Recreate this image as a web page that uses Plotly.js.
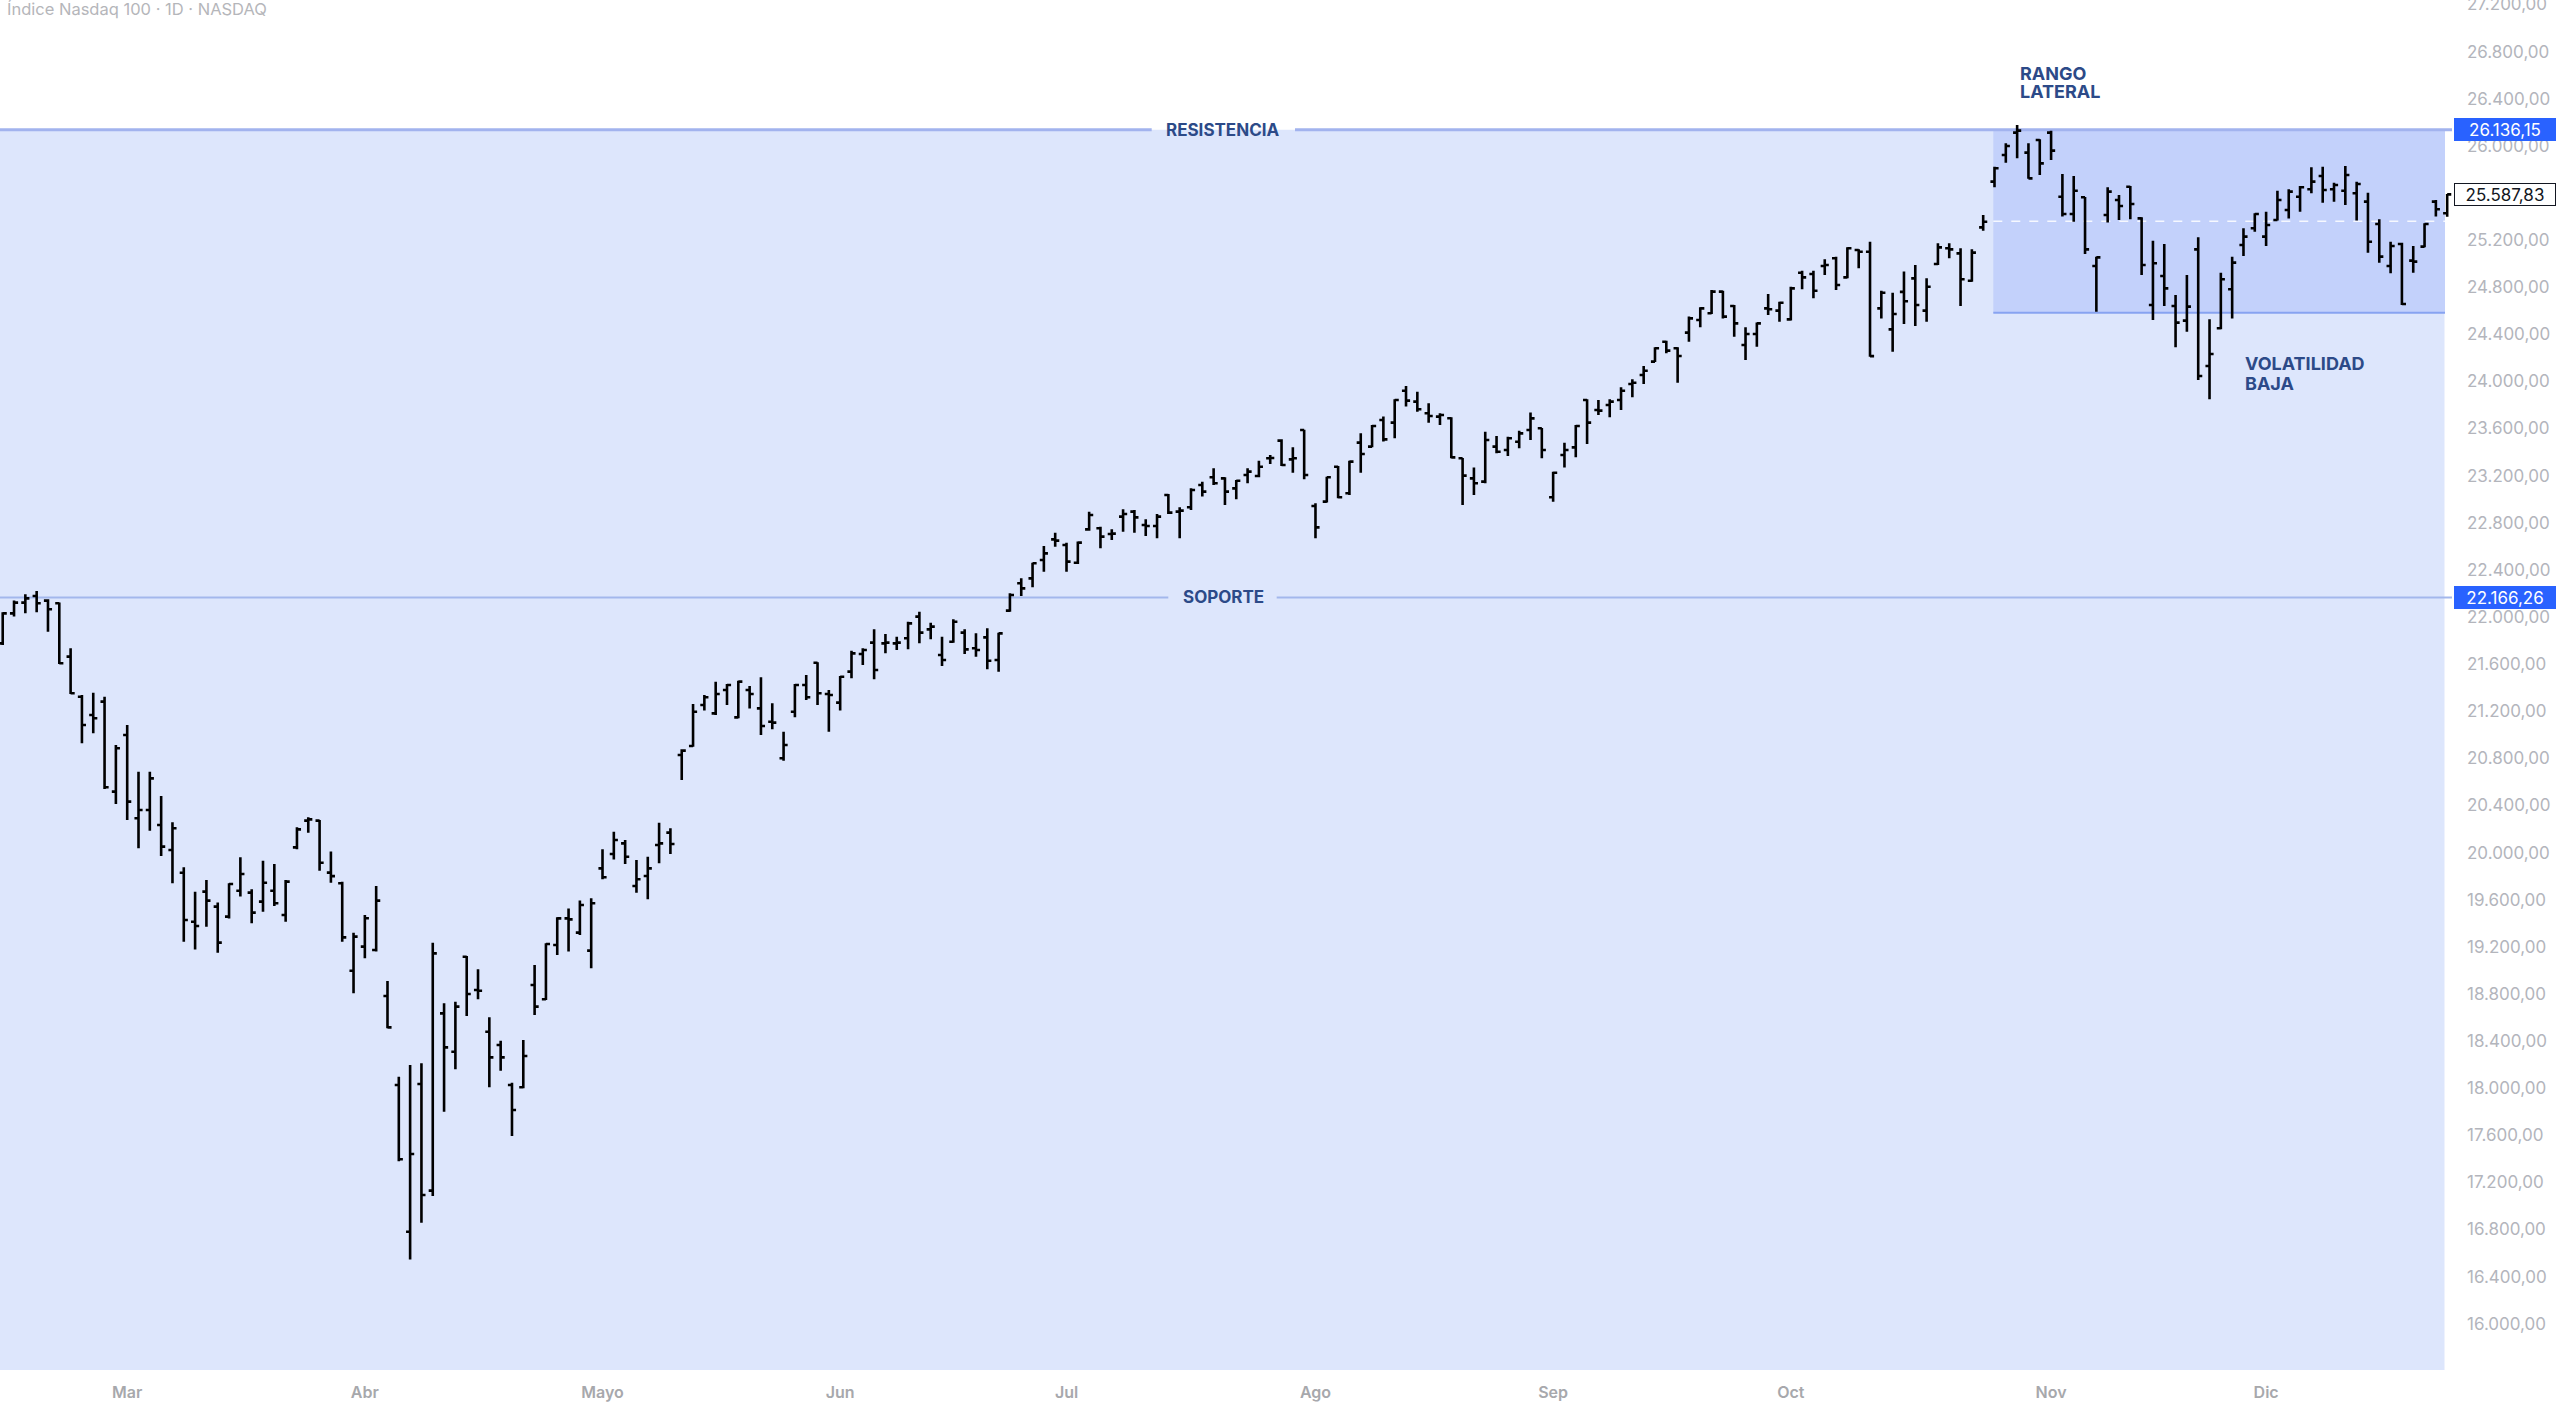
<!DOCTYPE html>
<html><head><meta charset="utf-8">
<script src="https://cdn.plot.ly/plotly-3.0.1.min.js"></script>
<style>html,body{margin:0;padding:0;background:#fff;overflow:hidden}#chart{width:2560px;height:1407px}</style>
</head><body><div id="chart"></div>
<script>
const dates = [
"2025-02-13","2025-02-14","2025-02-18","2025-02-19","2025-02-20","2025-02-21","2025-02-24","2025-02-25","2025-02-26","2025-02-27","2025-02-28",
"2025-03-03","2025-03-04","2025-03-05","2025-03-06","2025-03-07","2025-03-10","2025-03-11","2025-03-12","2025-03-13","2025-03-14","2025-03-17","2025-03-18","2025-03-19","2025-03-20","2025-03-21","2025-03-24","2025-03-25","2025-03-26","2025-03-27","2025-03-28","2025-03-31",
"2025-04-01","2025-04-02","2025-04-03","2025-04-04","2025-04-07","2025-04-08","2025-04-09","2025-04-10","2025-04-11","2025-04-14","2025-04-15","2025-04-16","2025-04-17","2025-04-21","2025-04-22","2025-04-23","2025-04-24","2025-04-25","2025-04-28","2025-04-29","2025-04-30",
"2025-05-01","2025-05-02","2025-05-05","2025-05-06","2025-05-07","2025-05-08","2025-05-09","2025-05-12","2025-05-13","2025-05-14","2025-05-15","2025-05-16","2025-05-19","2025-05-20","2025-05-21","2025-05-22","2025-05-23","2025-05-27","2025-05-28","2025-05-29","2025-05-30",
"2025-06-02","2025-06-03","2025-06-04","2025-06-05","2025-06-06","2025-06-09","2025-06-10","2025-06-11","2025-06-12","2025-06-13","2025-06-16","2025-06-17","2025-06-18","2025-06-20","2025-06-23","2025-06-24","2025-06-25","2025-06-26","2025-06-27","2025-06-30",
"2025-07-01","2025-07-02","2025-07-03","2025-07-07","2025-07-08","2025-07-09","2025-07-10","2025-07-11","2025-07-14","2025-07-15","2025-07-16","2025-07-17","2025-07-18","2025-07-21","2025-07-22","2025-07-23","2025-07-24","2025-07-25","2025-07-28","2025-07-29","2025-07-30","2025-07-31",
"2025-08-01","2025-08-04","2025-08-05","2025-08-06","2025-08-07","2025-08-08","2025-08-11","2025-08-12","2025-08-13","2025-08-14","2025-08-15","2025-08-18","2025-08-19","2025-08-20","2025-08-21","2025-08-22","2025-08-25","2025-08-26","2025-08-27","2025-08-28","2025-08-29",
"2025-09-02","2025-09-03","2025-09-04","2025-09-05","2025-09-08","2025-09-09","2025-09-10","2025-09-11","2025-09-12","2025-09-15","2025-09-16","2025-09-17","2025-09-18","2025-09-19","2025-09-22","2025-09-23","2025-09-24","2025-09-25","2025-09-26","2025-09-29","2025-09-30",
"2025-10-01","2025-10-02","2025-10-03","2025-10-06","2025-10-07","2025-10-08","2025-10-09","2025-10-10","2025-10-13","2025-10-14","2025-10-15","2025-10-16","2025-10-17","2025-10-20","2025-10-21","2025-10-22","2025-10-23","2025-10-24","2025-10-27","2025-10-28","2025-10-29","2025-10-30","2025-10-31",
"2025-11-03","2025-11-04","2025-11-05","2025-11-06","2025-11-07","2025-11-10","2025-11-11","2025-11-12","2025-11-13","2025-11-14","2025-11-17","2025-11-18","2025-11-19","2025-11-20","2025-11-21","2025-11-24","2025-11-25","2025-11-26","2025-11-28",
"2025-12-01","2025-12-02","2025-12-03","2025-12-04","2025-12-05","2025-12-08","2025-12-09","2025-12-10","2025-12-11","2025-12-12","2025-12-15","2025-12-16","2025-12-17","2025-12-18","2025-12-19","2025-12-22","2025-12-23"
];

const openP = [
21776,22031,22122,22178,22139,22116,21663,21323,21168,21281,20517,
20998,20291,20361,20234,20022,19829,19413,19668,19541,19456,19676,19660,19583,19676,19470,20044,20271,20271,19830,19739,18997,
19201,19173,18782,18027,16781,18035,17130,18635,18309,19116,18833,18479,18366,18027,18007,18876,18754,19215,19441,19320,19167,
19866,19988,20078,19716,19801,20064,20169,20828,20905,21253,21182,21380,21148,21380,21224,21111,20800,21196,21423,21612,21346,
21273,21536,21686,21782,21776,21776,21819,22003,21895,21677,21790,21867,21734,21827,21635,22054,22286,22328,22484,22659,
22611,22461,22744,22753,22705,22852,22894,22781,22772,23036,22894,22931,23121,23186,23177,23092,23205,23197,23347,23497,23338,23587,
22942,22979,23276,23050,23480,23446,23672,23650,23921,23828,23729,23701,23687,23347,23177,23149,23446,23418,23488,23587,23602,
23016,23375,23440,23842,23757,23800,23842,23978,24054,24168,24337,24281,24414,24521,24578,24762,24640,24309,24402,24620,24601,
24527,24923,24912,24980,25045,24883,25116,25101,24620,24442,24760,24875,24601,24997,25130,25087,24855,25308,25696,25922,26112,25942,26050,
26112,25568,25421,25563,24980,25413,25540,25653,25384,24649,24895,24640,24516,25121,24131,24451,24782,25158,25300,
25229,25370,25455,25568,25631,25744,25631,25619,25597,25526,25336,24980,25167,25025,25144,25526,25427
];

const highP = [
22040,22139,22192,22221,22150,22122,21734,21338,21357,21323,20913,
21083,20687,20687,20480,20257,19875,19668,19767,19575,19739,19960,19688,19931,19903,19767,20214,20299,20277,20008,19753,19320,
19470,19716,18910,18097,18196,18211,19235,18720,18734,19122,19009,18601,18403,18046,18409,19045,19230,19450,19526,19592,19611,
20027,20177,20106,19937,19965,20254,20206,20876,21261,21338,21451,21431,21459,21414,21488,21267,21026,21431,21507,21615,21380,
21499,21714,21734,21895,21856,21833,21960,22045,21952,21833,21980,21895,21861,21904,21866,22201,22328,22461,22603,22716,
22631,22640,22894,22767,22744,22914,22908,22829,22874,23044,22931,23092,23149,23262,23186,23163,23262,23327,23375,23508,23440,23590,
22965,23190,23282,23327,23559,23630,23701,23848,23961,23913,23814,23729,23695,23350,23270,23573,23536,23531,23582,23735,23605,
23234,23480,23630,23848,23842,23848,23950,24018,24131,24289,24346,24290,24550,24629,24776,24770,24649,24459,24499,24742,24677,
24804,24940,24940,25036,25059,25138,25122,25186,24770,24753,24932,24988,24875,25172,25172,25130,25121,25413,25823,26021,26177,26021,26055,
26129,25761,25744,25566,25059,25648,25583,25659,25393,25195,25167,24733,24903,25223,24527,24923,25059,25300,25427,
25441,25619,25631,25659,25818,25823,25687,25829,25696,25602,25376,25186,25178,25150,25342,25540,25591
];

const lowP = [
21762,22003,22031,22040,21875,21601,21346,20927,21012,20540,20412,
20276,20036,20186,19971,19739,19243,19178,19371,19150,19441,19626,19399,19498,19546,19413,20027,20169,19846,19744,19243,18805,
19102,19159,18508,17380,16546,16858,17084,17800,18160,18612,18754,18007,18148,17594,17998,18621,18748,19130,19159,19300,19017,
19773,19942,19903,19659,19603,19909,19988,20616,20899,21205,21168,21253,21140,21224,20998,21046,20780,21148,21295,21253,21026,
21205,21479,21592,21471,21691,21720,21725,21776,21810,21584,21782,21686,21663,21556,21536,22045,22178,22252,22385,22597,
22385,22450,22733,22583,22654,22724,22716,22688,22668,22874,22668,22908,23022,23121,22951,22999,23135,23186,23299,23282,23225,23169,
22668,22971,23007,23036,23225,23440,23489,23517,23786,23743,23650,23630,23347,22951,23036,23135,23389,23367,23432,23502,23347,
22979,23270,23355,23469,23715,23695,23757,23865,23978,24165,24238,23989,24337,24459,24572,24535,24380,24182,24295,24564,24507,
24516,24782,24705,24903,24776,24875,24960,24210,24535,24252,24487,24470,24507,24988,25045,24640,24847,25280,25648,25857,25894,25720,25752,
25880,25399,25356,25082,24592,25348,25370,25376,24903,24521,24640,24289,24422,24012,23848,24442,24535,25065,25271,
25150,25365,25384,25441,25597,25517,25526,25498,25365,25093,25008,24918,24649,24923,25138,25399,25398
];

const closeP = [
22031,22122,22158,22116,22065,21607,21352,21083,21140,20554,20885,
20432,20361,20630,20050,20206,19427,19376,19592,19235,19733,19818,19490,19744,19569,19753,20197,20282,19914,19800,19280,19286,
19442,19592,18516,17396,17441,17093,19144,18346,18692,18799,18827,18261,18261,17814,18273,18692,19224,19441,19433,19555,19569,
19790,20107,19965,19773,19866,20078,20073,20865,21196,21318,21346,21423,21451,21346,21075,21103,20913,21423,21318,21352,21338,
21493,21691,21720,21550,21782,21782,21946,21867,21918,21635,21960,21725,21720,21629,21861,22187,22243,22456,22540,22648,
22470,22631,22866,22682,22708,22874,22846,22772,22852,22886,22903,23078,23064,23135,23064,23157,23234,23276,23350,23290,23347,23205,
22761,23186,23016,23319,23384,23621,23508,23842,23837,23763,23706,23715,23355,23200,23135,23502,23403,23517,23559,23686,23418,
23225,23418,23621,23650,23752,23828,23921,23989,24091,24281,24261,24216,24535,24620,24762,24550,24493,24402,24493,24612,24668,
24790,24883,24770,24988,24818,25130,25101,24215,24753,24572,24680,24649,24804,25138,25121,24867,25093,25356,25809,25999,26129,25724,25851,
25959,25421,25619,25121,25053,25611,25489,25506,24988,25003,24790,24499,24635,24046,24233,24867,25008,25229,25421,
25328,25540,25611,25648,25696,25625,25667,25752,25676,25186,25059,25150,24657,25017,25336,25461,25587.83
];

const monthStarts = ["2025-03-03","2025-04-01","2025-05-01","2025-06-02","2025-07-01","2025-08-01","2025-09-02","2025-10-01","2025-11-03","2025-12-01"];
const monthLabels = ["Mar","Abr","Mayo","Jun","Jul","Ago","Sep","Oct","Nov","Dic"];

const resistance = 26136.15;
const support = 22166.26;
const rangeLow = 24583;
const lastPrice = closeP[closeP.length - 1];

// ---- layout geometry (pixels) ----
const W = 2560, H = 1407, ML = 0, MR = 108, MT = 0, MB = 37;
const PW = W - ML - MR, PH = H - MT - MB;
const BAR0 = 2.71, STEP = 11.317;              // pixel of first bar, spacing
const ix = px => (px - BAR0) / STEP;           // pane pixel -> bar index
const X = px => px / PW;                       // pane pixel -> paper x
const Y = py => 1 - py / PH;                   // pane pixel -> paper y
const idx = dates.map((d, k) => k);
const midRange = (resistance + rangeLow) / 2;
const fmt = v => v.toFixed(2).replace('.', ',').replace(/\B(?=(\d{3})+(?!\d))/g, '.');

const FONT = 'Inter, Roboto, "Noto Sans", sans-serif';
const NAVY = '#2c4a88';

const trace = {
  type: 'ohlc',
  x: idx, open: openP, high: highP, low: lowP, close: closeP,
  text: dates, hoverinfo: 'skip',
  tickwidth: 0.36,
  increasing: {line: {color: '#000000', width: 2.6}},
  decreasing: {line: {color: '#000000', width: 2.6}},
  showlegend: false
};

const xr = [ix(0), ix(PW)];
const shapes = [
  {type:'rect', layer:'below', xref:'x', yref:'y', x0:xr[0], x1:ix(2444.5), y0:15000, y1:resistance, fillcolor:'#dde6fc', line:{width:0}},
  {type:'rect', layer:'below', xref:'x', yref:'y', x0:ix(1993.3), x1:ix(2445), y0:rangeLow, y1:resistance, fillcolor:'#c3d1fb', line:{width:0}},
  {type:'line', layer:'below', xref:'x', yref:'y', x0:ix(1993.3), x1:ix(2445), y0:midRange, y1:midRange, line:{color:'rgba(255,255,255,0.85)', width:1.5, dash:'dash'}},
  {type:'line', layer:'below', xref:'x', yref:'y', x0:ix(1993.3), x1:ix(2445), y0:rangeLow, y1:rangeLow, line:{color:'#87a3f1', width:2}},
  {type:'line', layer:'below', xref:'x', yref:'y', x0:xr[0], x1:ix(1151.7), y0:resistance, y1:resistance, line:{color:'#a2b3ee', width:3}},
  {type:'line', layer:'below', xref:'x', yref:'y', x0:ix(1295), x1:xr[1], y0:resistance, y1:resistance, line:{color:'#a2b3ee', width:3}},
  {type:'line', layer:'below', xref:'x', yref:'y', x0:xr[0], x1:ix(1168.3), y0:support, y1:support, line:{color:'#a3b7ec', width:2}},
  {type:'line', layer:'below', xref:'x', yref:'y', x0:ix(1276.7), x1:xr[1], y0:support, y1:support, line:{color:'#a3b7ec', width:2}}
];

const boldNavy = (size) => ({family: FONT, size: size, color: NAVY, weight: 700});
const priceBox = (v, bg, border, color) => ({
  xref:'paper', yref:'y', x:1, xshift:2, y:v, xanchor:'left', yanchor:'middle', showarrow:false,
  text:fmt(v), width:98, height:19, borderpad:1, bgcolor:bg, bordercolor:border, borderwidth:1,
  font:{family:FONT, size:17, color:color}
});
const annotations = [
  {xref:'paper', yref:'paper', x:X(5), y:Y(9), xanchor:'left', yanchor:'middle', showarrow:false,
   text:'Índice Nasdaq 100 · 1D · NASDAQ', font:{family:FONT, size:16.5, color:'#b5b6ba'}},
  {xref:'x', yref:'y', x:ix(1222.5), y:resistance, xanchor:'center', yanchor:'middle', showarrow:false, text:'RESISTENCIA', font:boldNavy(17)},
  {xref:'x', yref:'y', x:ix(1223), y:support, xanchor:'center', yanchor:'middle', showarrow:false, text:'SOPORTE', font:boldNavy(17)},
  {xref:'paper', yref:'paper', x:X(2018), y:Y(73), xanchor:'left', yanchor:'middle', showarrow:false, text:'RANGO', font:boldNavy(18)},
  {xref:'paper', yref:'paper', x:X(2018), y:Y(92), xanchor:'left', yanchor:'middle', showarrow:false, text:'LATERAL', font:boldNavy(18)},
  {xref:'paper', yref:'paper', x:X(2243), y:Y(363), xanchor:'left', yanchor:'middle', showarrow:false, text:'VOLATILIDAD', font:boldNavy(18)},
  {xref:'paper', yref:'paper', x:X(2243), y:Y(383), xanchor:'left', yanchor:'middle', showarrow:false, text:'BAJA', font:boldNavy(18)},
  priceBox(resistance, '#2962ff', '#2962ff', '#ffffff'),
  priceBox(support, '#2962ff', '#2962ff', '#ffffff'),
  priceBox(lastPrice, '#ffffff', '#131722', '#131722')
];

const layout = {
  width: W, height: H,
  margin: {l: ML, r: MR, t: MT, b: MB, pad: 0},
  paper_bgcolor: '#ffffff', plot_bgcolor: '#ffffff',
  separators: ',.',
  hovermode: false, dragmode: false, showlegend: false,
  font: {family: FONT},
  xaxis: {
    type: 'linear', range: xr, fixedrange: true,
    rangeslider: {visible: false},
    tickvals: monthStarts.map(d => dates.indexOf(d)), ticktext: monthLabels,
    tickfont: {family: FONT, size: 16, color: '#a7a8ac', weight: 600},
    ticks: '', ticklabelstandoff: 11,
    showgrid: false, zeroline: false, showline: false
  },
  yaxis: {
    side: 'right', range: [15607, 27238], fixedrange: true,
    tick0: 0, dtick: 400, tickformat: ',.2f',
    tickfont: {family: FONT, size: 17, color: '#b3b5bc'},
    ticks: '', ticklabelstandoff: 14, ticklabeloverflow: 'allow',
    showgrid: false, zeroline: false, showline: false
  },
  shapes: shapes,
  annotations: annotations
};

Plotly.newPlot('chart', [trace], layout, {staticPlot: true, displayModeBar: false});
</script>
</body></html>
